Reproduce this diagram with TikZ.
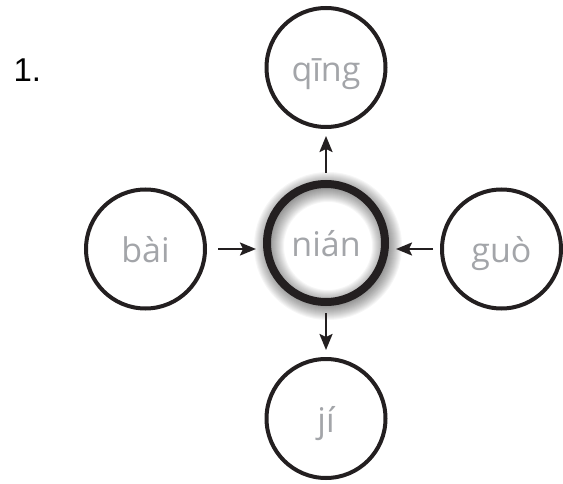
\documentclass[tikz,border=0pt]{standalone}
\usepackage{fontspec}
\setmainfont{Open Sans}
\newfontfamily\numfont{Liberation Sans}
\usepackage{xcolor}
\usepackage{tikz}
\usetikzlibrary{positioning,arrows.meta}
\definecolor{inkblack}{RGB}{35,31,32}
\definecolor{sylgray}{RGB}{163,165,169}

\begin{document}
\begin{tikzpicture}[
  x=1pt, y=1pt,
  node distance=51pt,
  syl/.style={circle, draw=inkblack, line width=4pt, minimum size=119pt, text=sylgray, font=\fontsize{34}{40}\selectfont, text height=28pt, text depth=0pt, inner sep=0pt},
  hub/.style={syl, line width=8pt, minimum size=118pt},
  flow/.style={-{Stealth[length=16pt, width=13pt, inset=3pt]}, line width=2.2pt, draw=inkblack, shorten <=7pt, shorten >=7pt}
]
\useasboundingbox (0,0) rectangle (563,483);
% soft shadow round the centre ring
\foreach \w in {2,4,...,30}
  \draw[line width=\w pt, black, opacity=0.035] (328,237) circle (59);
\node[hub] (nian) at (326,240) {nián};
\node[syl, above=of nian] (qing) {qīng};
\node[syl, below=of nian] (ji) {jí};
\node[syl, left=56pt of nian, yshift=-6pt] (bai) {bài};
\node[syl, right=of nian, yshift=-6pt] (guo) {guò};
\node[anchor=base west, font=\numfont\fontsize{33}{38}\selectfont] (num) at (10,401) {1.};
\draw[flow] (nian) -- (qing);
\draw[flow] (nian) -- (ji);
\draw[flow, shorten <=11pt] (bai.east) -- (bai.east -| nian.west);
\draw[flow] (guo.west) -- (guo.west -| nian.east);
\end{tikzpicture}
\end{document}
